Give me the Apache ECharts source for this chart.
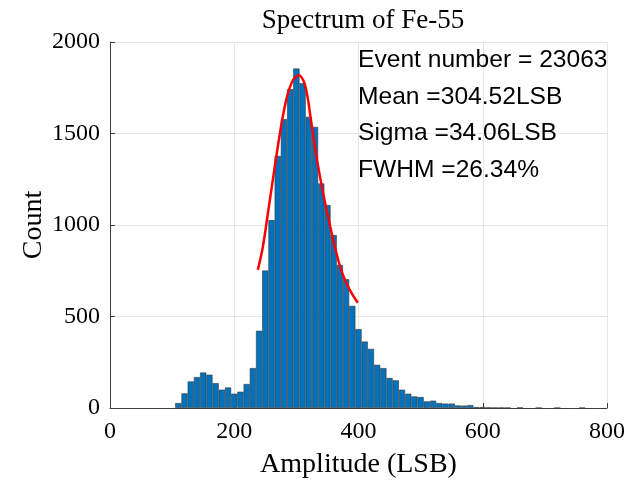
<!DOCTYPE html>
<html>
<head>
<meta charset="utf-8">
<script src="https://cdn.jsdelivr.net/npm/echarts@6/dist/echarts.min.js"></script>
<style>html,body{margin:0;padding:0;background:#fff;}#c{width:635px;height:486px;}</style>
</head>
<body>
<div id="c"></div>
<script>
// Histogram bin centres (LSB) and counts
var binCenters = [110,120,130,140,150,160,170,180,190,200,210,220,230,240,250,260,270,280,290,300,
                  310,320,330,340,350,360,370,380,390,400,410,420,430,440,450,460,470,480,490,500,
                  510,520,530,540,550,560,570,580,590,600,610,620,630,640,660,690,720,760];
var binCounts  = [27,80,145,169,194,182,136,100,112,78,89,131,218,422,751,1027,1378,1578,1742,1855,
                  1775,1591,1536,1227,1109,945,782,704,558,431,363,323,236,218,164,151,100,78,63,60,
                  36,40,27,24,24,14,13,16,5,5,3,2,2,1,2,1,1,1];
// Fitted curve
var fitX = [238,246,254,262,270,278,286,294,300,304,308,313,318,324,333,343,352,362,372,383,392,399];
var fitY = [755,880,1060,1245,1425,1590,1715,1790,1812,1818,1808,1775,1700,1560,1360,1175,1030,880,755,665,610,575];
var xTicks = [0,200,400,600,800];
var yTicks = [0,500,1000,1500,2000];
var infoLines = ['Event number = 23063','Mean =304.52LSB','Sigma =34.06LSB','FWHM =26.34%'];

var barData = binCenters.map(function(x,i){return [x,binCounts[i]];});
var fitData = fitX.map(function(x,i){return [x,fitY[i]];});
var serif = 'Liberation Serif';
var axisColor = '#404040';

var chart = echarts.init(document.getElementById('c'), null, {renderer:'canvas'});
var graphics = infoLines.map(function(t,i){
  return {type:'text', left:358, top:48 + i*36.5, z:100,
    style:{text:t, font:'24.6px "Liberation Sans"', fill:'#000'}};
});
chart.setOption({
  animation:false,
  backgroundColor:'#fff',
  title:{text:'Spectrum of Fe-55', left:358, textAlign:'center', top:2,
    textStyle:{fontFamily:serif, fontSize:27, fontWeight:'normal', color:'#000'}},
  grid:{left:110, right:28, top:42, bottom:78, containLabel:false},
  xAxis:{type:'value', min:xTicks[0], max:xTicks[xTicks.length-1], interval:200,
    name:'Amplitude (LSB)', nameLocation:'middle', nameGap:43,
    nameTextStyle:{fontFamily:serif, fontSize:28, color:'#000'},
    axisLine:{show:true, onZero:false, lineStyle:{color:axisColor, width:1}},
    axisTick:{show:true, inside:true, length:5, lineStyle:{color:axisColor}},
    axisLabel:{fontFamily:serif, fontSize:24, color:'#000', margin:12,
      formatter:function(v){return String(v);}},
    splitLine:{show:true, lineStyle:{color:'#e6e6e6', width:1}}},
  yAxis:{type:'value', min:yTicks[0], max:yTicks[yTicks.length-1], interval:500,
    name:'Count', nameLocation:'middle', nameGap:62, nameMoveOverlap:false,
    nameTextStyle:{fontFamily:serif, fontSize:28, color:'#000'},
    axisLine:{show:true, lineStyle:{color:axisColor, width:1}},
    axisTick:{show:true, inside:true, length:5, lineStyle:{color:axisColor}},
    axisLabel:{fontFamily:serif, fontSize:24, color:'#000', margin:10,
      formatter:function(v){return String(v);}},
    splitLine:{show:true, lineStyle:{color:'#e6e6e6', width:1}}},
  series:[
    {type:'bar', data:barData, barWidth:'100%', barGap:'0%',
      itemStyle:{color:'#0072BD', borderColor:'#3a3a3a', borderWidth:0.6}},
    {type:'line', data:fitData, smooth:0.35, showSymbol:false, symbol:'none',
      lineStyle:{color:'#ff0000', width:2.5}, z:5}
  ],
  graphic:graphics
});
</script>
</body>
</html>
